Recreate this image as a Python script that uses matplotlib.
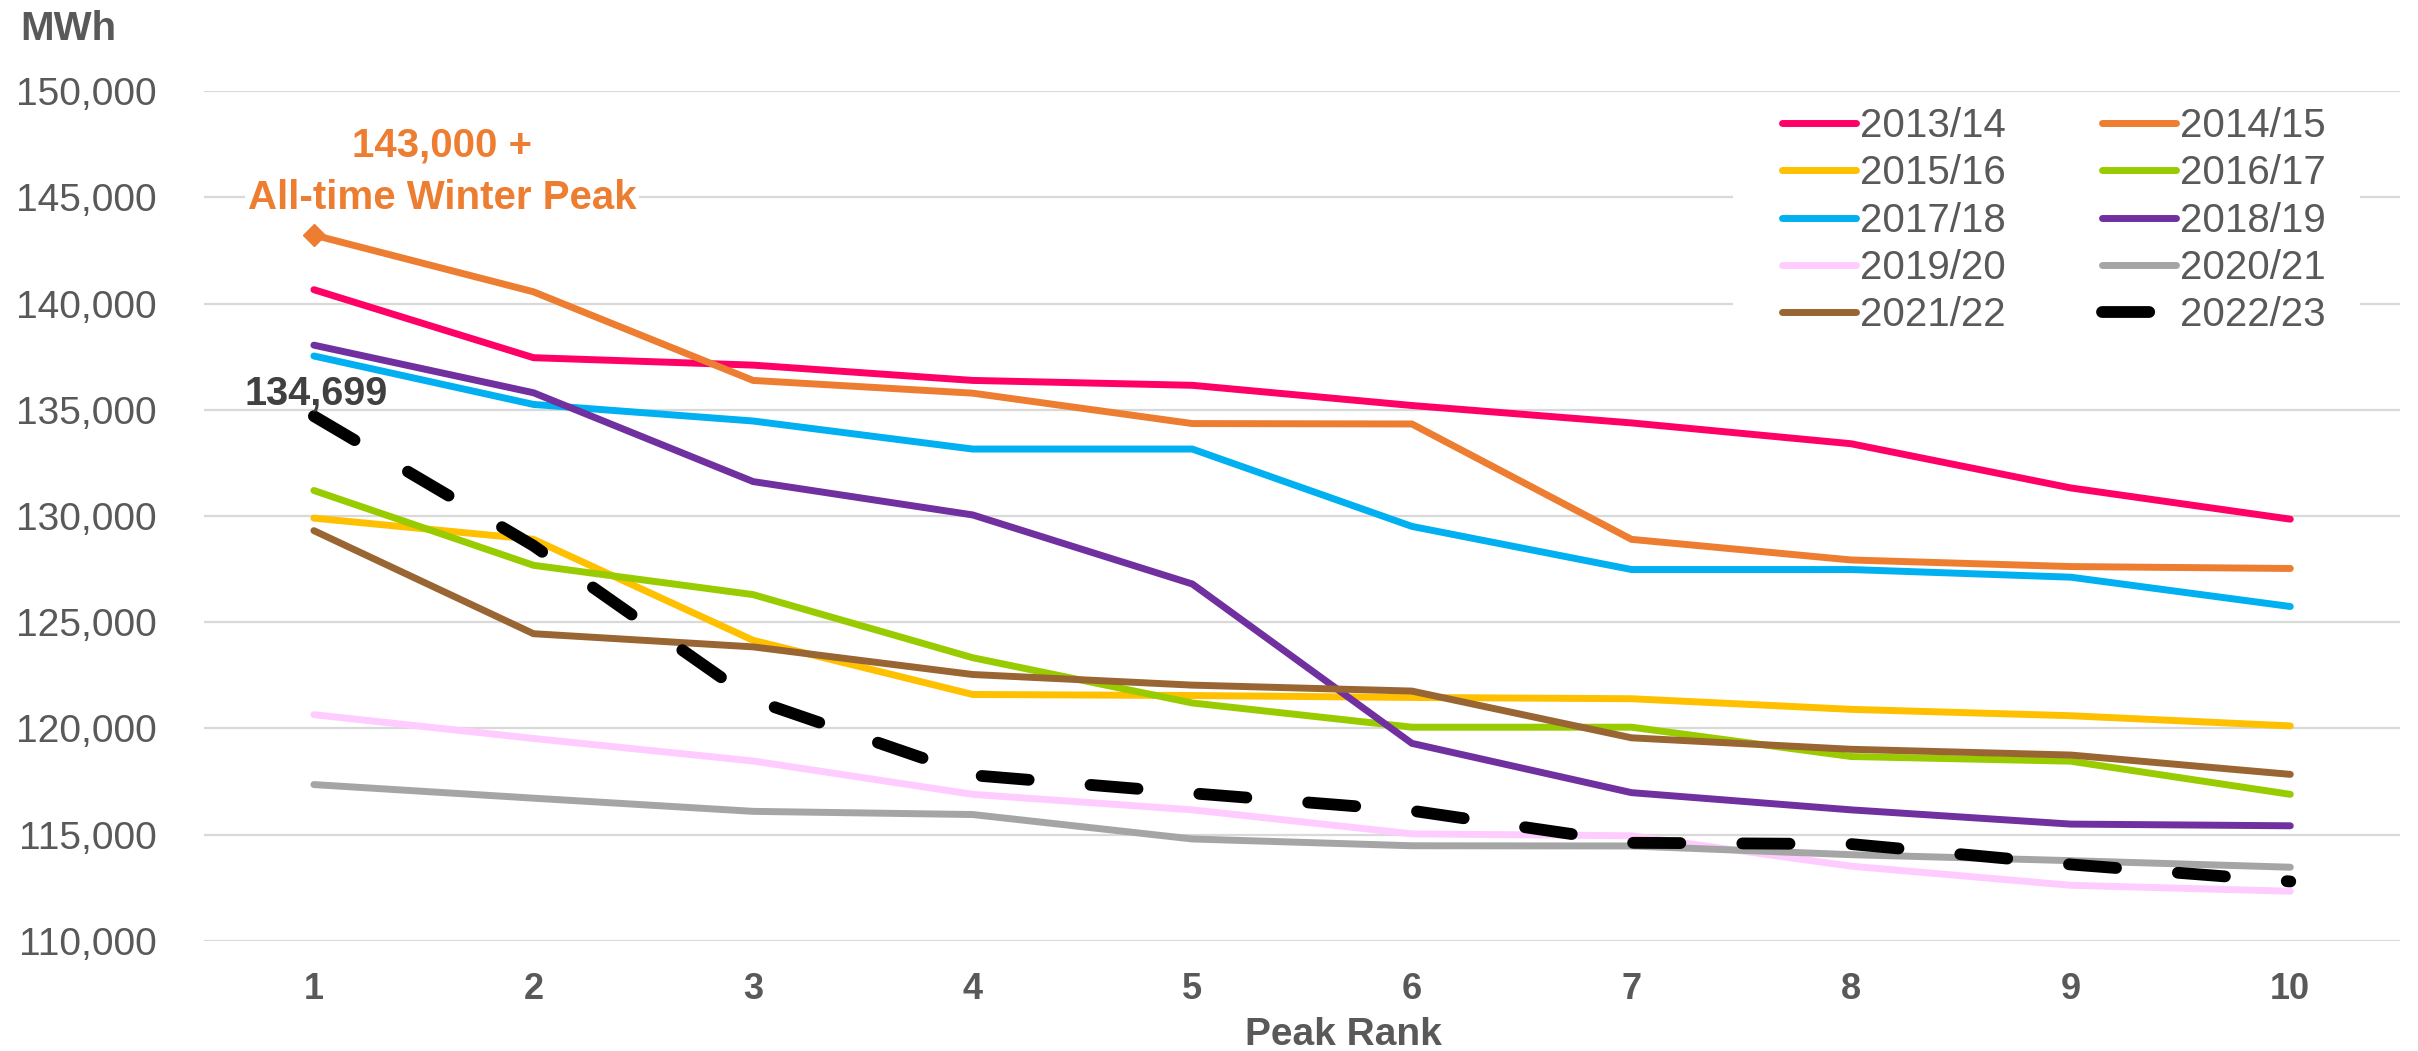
import matplotlib
matplotlib.use("Agg")
import matplotlib.pyplot as plt
from matplotlib.patches import Rectangle
from matplotlib.ticker import FuncFormatter

plt.rcParams['font.family'] = ['Liberation Sans', 'DejaVu Sans']

# Top 10 winter peaks per season (MWh)
ranks = [1, 2, 3, 4, 5, 6, 7, 8, 9, 10]
seasons = ['2013/14', '2014/15', '2015/16', '2016/17', '2017/18',
           '2018/19', '2019/20', '2020/21', '2021/22', '2022/23']
peaks_1314 = [140650, 137450, 137100, 136380, 136150, 135200, 134380, 133400, 131320, 129850]
peaks_1415 = [143220, 140550, 136380, 135780, 134350, 134330, 128900, 127930, 127620, 127530]
peaks_1516 = [129900, 128900, 124150, 121600, 121550, 121460, 121400, 120900, 120600, 120120]
peaks_1617 = [131200, 127680, 126300, 123330, 121200, 120060, 120060, 118680, 118460, 116900]
peaks_1718 = [137530, 135250, 134470, 133150, 133150, 129510, 127480, 127480, 127120, 125740]
peaks_1819 = [138040, 135800, 131620, 130050, 126800, 119300, 116980, 116170, 115500, 115420]
peaks_1920 = [120650, 119530, 118470, 116900, 116170, 115040, 114950, 113520, 112620, 112340]
peaks_2021 = [117360, 116720, 116100, 115950, 114800, 114480, 114470, 114060, 113780, 113470]
peaks_2122 = [129310, 124460, 123840, 122540, 122040, 121760, 119560, 119020, 118750, 117840]
peaks_2223 = [134699, 128600, 121350, 117800, 116950, 116130, 114620, 114560, 113600, 112800]

all_peaks = [peaks_1314, peaks_1415, peaks_1516, peaks_1617, peaks_1718,
             peaks_1819, peaks_1920, peaks_2021, peaks_2122, peaks_2223]
colors = ['#FF0066', '#ED7D31', '#FFC000', '#99CC00', '#00B0F0',
          '#7030A0', '#FFCCFF', '#A5A5A5', '#996633', '#000000']

GREY = '#595959'

fig = plt.figure(figsize=(24.18, 10.51), dpi=100)
ax = fig.add_axes([0.0844, 0.1047, 0.9082, 0.8087])

for season, vals, c in zip(seasons, all_peaks, colors):
    if season == '2022/23':
        ax.plot(ranks, vals, color=c, lw=8.5, dashes=(4.0, 5.25),
                dash_capstyle='round', solid_capstyle='round', label=season, zorder=3)
    else:
        ax.plot(ranks, vals, color=c, lw=5, solid_capstyle='round',
                solid_joinstyle='miter', label=season, zorder=2)

# diamond on the all-time peak
ax.plot(ranks[0], peaks_1415[0], marker='D', markersize=11, color='#ED7D31', zorder=2)

ax.set_xlim(0.5, 10.5)
ax.set_ylim(110000, 150000)
ax.set_xticks(ranks)
ax.set_yticks(range(110000, 150001, 5000))
ax.yaxis.set_major_formatter(FuncFormatter(lambda v, p: f'{int(v):,}'))
ax.grid(axis='y', color='#D9D9D9', lw=1.6)
ax.set_axisbelow(True)
for s in ax.spines.values():
    s.set_visible(False)
ax.tick_params(axis='both', length=0, colors=GREY)
ax.tick_params(axis='y', labelsize=28, pad=34)
ax.tick_params(axis='x', labelsize=26, pad=22)
for lab in ax.get_xticklabels():
    lab.set_fontweight('bold')

# white block behind the legend so gridlines stop there
ax.add_patch(Rectangle((0.7167, 0.667), 0.2593, 0.238, transform=fig.transFigure,
                       facecolor='white', edgecolor='none', zorder=1, clip_on=False))

# legend filled row by row: 2013/14 | 2014/15, 2015/16 | 2016/17 ...
handles, labels = ax.get_legend_handles_labels()
order = [0, 2, 4, 6, 8, 1, 3, 5, 7, 9]
leg = ax.legend([handles[i] for i in order], [labels[i] for i in order],
                loc='upper left', bbox_to_anchor=(0.737, 0.898),
                bbox_transform=fig.transFigure, ncol=2, frameon=False,
                fontsize=29, handlelength=1.83, handletextpad=0.1,
                columnspacing=2.4, labelspacing=0.23, borderaxespad=0,
                borderpad=0, labelcolor=GREY)
leg.set_zorder(5)

# axis titles
fig.text(0.0083, 0.972, 'MWh', fontsize=29, fontweight='bold', color=GREY,
         ha='left', va='center')
fig.text(0.5554, 0.0152, 'Peak Rank', fontsize=28, fontweight='bold', color=GREY,
         ha='center', va='center')

# annotations
fig.text(0.1828, 0.862, '143,000 +', fontsize=29, fontweight='bold',
         color='#ED7D31', ha='center', va='center')
fig.text(0.1828, 0.812, 'All-time Winter Peak', fontsize=29, fontweight='bold',
         color='#ED7D31', ha='center', va='center',
         bbox=dict(facecolor='white', edgecolor='none', pad=2))
fig.text(0.1309, 0.6147, '134,699', fontsize=28.5, fontweight='bold',
         color='#404040', ha='center', va='baseline')

fig.savefig('out.png', dpi=100)
